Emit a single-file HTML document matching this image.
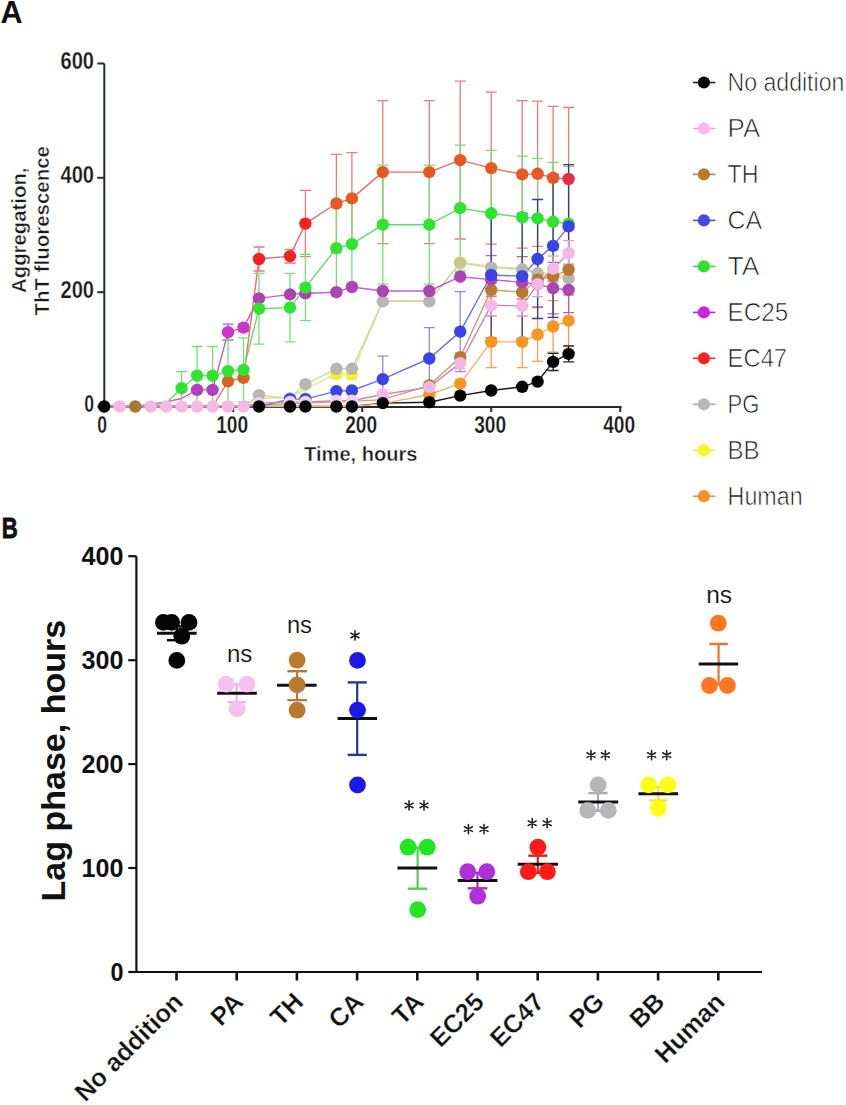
<!DOCTYPE html>
<html><head><meta charset="utf-8"><title>Aggregation kinetics and lag phase</title>
<style>
html,body{margin:0;padding:0;background:#fff;}
body{width:846px;height:1105px;overflow:hidden;}
svg{display:block;font-family:"Liberation Sans",sans-serif;}
</style></head>
<body>
<svg width="846" height="1105" viewBox="0 0 846 1105">
<rect width="846" height="1105" fill="#fff"/>
<g stroke="#262a33" stroke-width="2" fill="none">
<path d="M104.3 63.6 V407 H621.5"/>
<path d="M97.3 406.5 H104.3"/>
<path d="M97.3 292.2 H104.3"/>
<path d="M97.3 177.8 H104.3"/>
<path d="M97.3 63.5 H104.3"/>
<path d="M233.2 407 V412"/>
<path d="M362.2 407 V412"/>
<path d="M491.2 407 V412"/>
<path d="M620.2 407 V412"/>
</g>
<path d="M104.2 406.5 L259.0 406.5 L290.0 406.5 L305.4 406.5 L336.4 406.5 L351.9 406.5 L382.8 403.1 L429.3 402.2 L460.2 395.6 L491.2 390.5 L522.2 386.8 L537.6 381.6 L553.1 361.9 L568.6 353.9" stroke="#1a1010" stroke-width="1.4" fill="none" stroke-linejoin="round"/>
<path d="M104.2 406.5 L119.7 406.5 L135.2 406.5 L150.6 406.5 L166.1 406.5 L181.6 406.5 L197.1 406.5 L212.6 406.5 L228.0 406.5 L243.5 406.5 L259.0 398.5 L290.0 397.4 L305.4 389.3 L336.4 373.9 L351.9 374.5 L382.8 300.7 L429.3 300.7 L460.2 262.4 L491.2 265.9 L522.2 268.7 L537.6 271.6 L553.1 274.4 L568.6 276.7" stroke="#e6e68c" stroke-width="1.4" fill="none" stroke-linejoin="round"/>
<path d="M104.2 406.5 L119.7 406.5 L135.2 406.5 L150.6 406.5 L166.1 406.5 L181.6 406.5 L197.1 406.5 L212.6 406.5 L228.0 406.5 L243.5 406.5 L259.0 395.1 L290.0 398.5 L305.4 384.2 L336.4 368.8 L351.9 368.8 L382.8 301.3 L429.3 301.3 L460.2 263.0 L491.2 267.6 L522.2 269.3 L537.6 273.3 L553.1 276.7 L568.6 278.4" stroke="#d4d4a4" stroke-width="1.4" fill="none" stroke-linejoin="round"/>
<path d="M104.2 406.5 L119.7 406.5 L135.2 406.5 L150.6 406.5 L166.1 406.5 L181.6 406.5 L197.1 406.5 L212.6 406.5 L228.0 406.5 L243.5 406.5 L259.0 406.5 L290.0 406.5 L305.4 406.5 L336.4 406.5 L351.9 406.5 L382.8 403.6 L429.3 394.5 L460.2 383.6 L491.2 341.9 L522.2 341.9 L537.6 334.5 L553.1 326.5 L568.6 320.7" stroke="#f4b070" stroke-width="1.4" fill="none" stroke-linejoin="round"/>
<path d="M104.2 406.5 L119.7 406.5 L135.2 406.5 L150.6 406.5 L166.1 406.5 L181.6 406.5 L197.1 406.5 L212.6 406.5 L228.0 406.5 L243.5 406.5 L259.0 404.8 L290.0 403.6 L305.4 403.1 L336.4 401.9 L351.9 401.4 L382.8 399.6 L429.3 385.3 L460.2 357.3 L491.2 289.9 L522.2 292.2 L537.6 279.6 L553.1 276.2 L568.6 269.9" stroke="#c89c78" stroke-width="1.4" fill="none" stroke-linejoin="round"/>
<path d="M104.2 406.5 L119.7 406.5 L135.2 406.5 L150.6 404.2 L166.1 401.9 L181.6 398.5 L197.1 389.9 L212.6 389.9 L228.0 332.2 L243.5 327.6 L259.0 298.4 L290.0 294.4 L305.4 293.3 L336.4 292.2 L351.9 287.0 L382.8 291.0 L429.3 291.0 L460.2 276.7 L491.2 279.6 L522.2 282.4 L537.6 284.2 L553.1 288.2 L568.6 289.9" stroke="#c25ccb" stroke-width="1.4" fill="none" stroke-linejoin="round"/>
<path d="M104.2 406.5 L119.7 406.5 L135.2 406.5 L150.6 406.5 L166.1 406.5 L181.6 406.5 L197.1 406.5 L212.6 406.5 L228.0 381.3 L243.5 377.9 L259.0 259.0 L290.0 256.1 L305.4 223.6 L336.4 203.5 L351.9 198.4 L382.8 172.1 L429.3 172.1 L460.2 160.1 L491.2 168.1 L522.2 174.4 L537.6 173.8 L553.1 177.8 L568.6 179.0" stroke="#f06a6a" stroke-width="1.4" fill="none" stroke-linejoin="round"/>
<path d="M104.2 406.5 L119.7 406.5 L135.2 406.5 L150.6 404.8 L166.1 403.1 L181.6 388.2 L197.1 375.6 L212.6 375.6 L228.0 371.1 L243.5 369.9 L259.0 308.7 L290.0 307.6 L305.4 287.6 L336.4 248.1 L351.9 244.1 L382.8 224.7 L429.3 224.7 L460.2 208.1 L491.2 213.3 L522.2 217.3 L537.6 218.4 L553.1 221.8 L568.6 223.6" stroke="#62dc62" stroke-width="1.4" fill="none" stroke-linejoin="round"/>
<path d="M104.2 406.5 L119.7 406.5 L135.2 406.5 L150.6 406.5 L166.1 406.5 L181.6 406.5 L197.1 406.5 L212.6 406.5 L228.0 406.5 L243.5 406.5 L259.0 406.5 L290.0 399.1 L305.4 399.1 L336.4 391.1 L351.9 390.5 L382.8 379.1 L429.3 358.5 L460.2 331.6 L491.2 275.0 L522.2 276.2 L537.6 259.0 L553.1 245.9 L568.6 226.4" stroke="#6a70dc" stroke-width="1.4" fill="none" stroke-linejoin="round"/>
<path d="M104.2 406.5 L119.7 406.5 L135.2 406.5 L150.6 406.5 L166.1 406.5 L181.6 406.5 L197.1 406.5 L212.6 406.5 L228.0 406.5 L243.5 406.5 L259.0 403.1 L290.0 401.9 L305.4 401.9 L336.4 400.8 L351.9 400.8 L382.8 394.5 L429.3 387.1 L460.2 363.1 L491.2 305.3 L522.2 305.9 L537.6 284.2 L553.1 268.7 L568.6 253.3" stroke="#d484ae" stroke-width="1.4" fill="none" stroke-linejoin="round"/>
<path d="M305.4 384.8 V393.9 M299.9 384.8 H310.9 M299.9 393.9 H310.9" stroke="#e0e070" stroke-width="1.3" fill="none"/>
<path d="M336.4 369.3 V378.5 M330.9 369.3 H341.9 M330.9 378.5 H341.9" stroke="#e0e070" stroke-width="1.3" fill="none"/>
<path d="M351.9 369.9 V379.1 M346.4 369.9 H357.4 M346.4 379.1 H357.4" stroke="#e0e070" stroke-width="1.3" fill="none"/>
<path d="M491.2 316.2 V367.6 M485.7 316.2 H496.7 M485.7 367.6 H496.7" stroke="#f4a050" stroke-width="1.3" fill="none"/>
<path d="M522.2 316.2 V367.6 M516.7 316.2 H527.7 M516.7 367.6 H527.7" stroke="#f4a050" stroke-width="1.3" fill="none"/>
<path d="M537.6 307.6 V361.3 M532.1 307.6 H543.1 M532.1 361.3 H543.1" stroke="#f4a050" stroke-width="1.3" fill="none"/>
<path d="M553.1 300.7 V352.2 M547.6 300.7 H558.6 M547.6 352.2 H558.6" stroke="#f4a050" stroke-width="1.3" fill="none"/>
<path d="M568.6 295.0 V346.5 M563.1 295.0 H574.1 M563.1 346.5 H574.1" stroke="#f4a050" stroke-width="1.3" fill="none"/>
<path d="M429.3 381.9 V388.8 M423.8 381.9 H434.8 M423.8 388.8 H434.8" stroke="#c0906a" stroke-width="1.3" fill="none"/>
<path d="M460.2 352.8 V361.9 M454.7 352.8 H465.7 M454.7 361.9 H465.7" stroke="#c0906a" stroke-width="1.3" fill="none"/>
<path d="M491.2 283.0 V296.7 M485.7 283.0 H496.7 M485.7 296.7 H496.7" stroke="#c0906a" stroke-width="1.3" fill="none"/>
<path d="M522.2 285.3 V299.0 M516.7 285.3 H527.7 M516.7 299.0 H527.7" stroke="#c0906a" stroke-width="1.3" fill="none"/>
<path d="M537.6 273.9 V285.3 M532.1 273.9 H543.1 M532.1 285.3 H543.1" stroke="#c0906a" stroke-width="1.3" fill="none"/>
<path d="M553.1 270.4 V281.9 M547.6 270.4 H558.6 M547.6 281.9 H558.6" stroke="#c0906a" stroke-width="1.3" fill="none"/>
<path d="M568.6 264.1 V275.6 M563.1 264.1 H574.1 M563.1 275.6 H574.1" stroke="#c0906a" stroke-width="1.3" fill="none"/>
<path d="M228.0 324.2 V340.2 M222.5 324.2 H233.5 M222.5 340.2 H233.5" stroke="#b060b8" stroke-width="1.3" fill="none"/>
<path d="M243.5 324.2 V331.0 M238.0 324.2 H249.0 M238.0 331.0 H249.0" stroke="#b060b8" stroke-width="1.3" fill="none"/>
<path d="M491.2 255.6 V303.6 M485.7 255.6 H496.7 M485.7 303.6 H496.7" stroke="#b060b8" stroke-width="1.3" fill="none"/>
<path d="M522.2 256.7 V308.2 M516.7 256.7 H527.7 M516.7 308.2 H527.7" stroke="#b060b8" stroke-width="1.3" fill="none"/>
<path d="M537.6 261.3 V307.0 M532.1 261.3 H543.1 M532.1 307.0 H543.1" stroke="#b060b8" stroke-width="1.3" fill="none"/>
<path d="M553.1 262.4 V313.9 M547.6 262.4 H558.6 M547.6 313.9 H558.6" stroke="#b060b8" stroke-width="1.3" fill="none"/>
<path d="M568.6 267.0 V312.7 M563.1 267.0 H574.1 M563.1 312.7 H574.1" stroke="#b060b8" stroke-width="1.3" fill="none"/>
<path d="M259.0 247.0 V271.0 M253.5 247.0 H264.5 M253.5 271.0 H264.5" stroke="#f07878" stroke-width="1.3" fill="none"/>
<path d="M290.0 249.3 V263.0 M284.5 249.3 H295.5 M284.5 263.0 H295.5" stroke="#f07878" stroke-width="1.3" fill="none"/>
<path d="M305.4 190.4 V256.7 M299.9 190.4 H310.9 M299.9 256.7 H310.9" stroke="#f07878" stroke-width="1.3" fill="none"/>
<path d="M336.4 154.4 V252.7 M330.9 154.4 H341.9 M330.9 252.7 H341.9" stroke="#f07878" stroke-width="1.3" fill="none"/>
<path d="M351.9 152.7 V244.1 M346.4 152.7 H357.4 M346.4 244.1 H357.4" stroke="#f07878" stroke-width="1.3" fill="none"/>
<path d="M382.8 100.6 V243.6 M377.3 100.6 H388.3 M377.3 243.6 H388.3" stroke="#f07878" stroke-width="1.3" fill="none"/>
<path d="M429.3 100.6 V243.6 M423.8 100.6 H434.8 M423.8 243.6 H434.8" stroke="#f07878" stroke-width="1.3" fill="none"/>
<path d="M460.2 81.2 V239.0 M454.7 81.2 H465.7 M454.7 239.0 H465.7" stroke="#f07878" stroke-width="1.3" fill="none"/>
<path d="M491.2 92.1 V244.1 M485.7 92.1 H496.7 M485.7 244.1 H496.7" stroke="#f07878" stroke-width="1.3" fill="none"/>
<path d="M522.2 100.6 V248.1 M516.7 100.6 H527.7 M516.7 248.1 H527.7" stroke="#f07878" stroke-width="1.3" fill="none"/>
<path d="M537.6 101.2 V246.4 M532.1 101.2 H543.1 M532.1 246.4 H543.1" stroke="#f07878" stroke-width="1.3" fill="none"/>
<path d="M553.1 106.4 V249.3 M547.6 106.4 H558.6 M547.6 249.3 H558.6" stroke="#f07878" stroke-width="1.3" fill="none"/>
<path d="M568.6 107.5 V250.4 M563.1 107.5 H574.1 M563.1 250.4 H574.1" stroke="#f07878" stroke-width="1.3" fill="none"/>
<path d="M181.6 371.6 V404.8 M176.1 371.6 H187.1 M176.1 404.8 H187.1" stroke="#74e074" stroke-width="1.3" fill="none"/>
<path d="M197.1 346.5 V404.8 M191.6 346.5 H202.6 M191.6 404.8 H202.6" stroke="#74e074" stroke-width="1.3" fill="none"/>
<path d="M212.6 346.5 V404.8 M207.1 346.5 H218.1 M207.1 404.8 H218.1" stroke="#74e074" stroke-width="1.3" fill="none"/>
<path d="M228.0 339.6 V402.5 M222.5 339.6 H233.5 M222.5 402.5 H233.5" stroke="#74e074" stroke-width="1.3" fill="none"/>
<path d="M243.5 337.9 V401.9 M238.0 337.9 H249.0 M238.0 401.9 H249.0" stroke="#74e074" stroke-width="1.3" fill="none"/>
<path d="M259.0 273.3 V344.2 M253.5 273.3 H264.5 M253.5 344.2 H264.5" stroke="#74e074" stroke-width="1.3" fill="none"/>
<path d="M290.0 273.3 V341.9 M284.5 273.3 H295.5 M284.5 341.9 H295.5" stroke="#74e074" stroke-width="1.3" fill="none"/>
<path d="M305.4 254.4 V320.7 M299.9 254.4 H310.9 M299.9 320.7 H310.9" stroke="#74e074" stroke-width="1.3" fill="none"/>
<path d="M336.4 207.0 V289.3 M330.9 207.0 H341.9 M330.9 289.3 H341.9" stroke="#74e074" stroke-width="1.3" fill="none"/>
<path d="M351.9 201.3 V287.0 M346.4 201.3 H357.4 M346.4 287.0 H357.4" stroke="#74e074" stroke-width="1.3" fill="none"/>
<path d="M382.8 165.2 V284.2 M377.3 165.2 H388.3 M377.3 284.2 H388.3" stroke="#74e074" stroke-width="1.3" fill="none"/>
<path d="M429.3 165.2 V284.2 M423.8 165.2 H434.8 M423.8 284.2 H434.8" stroke="#74e074" stroke-width="1.3" fill="none"/>
<path d="M460.2 145.2 V271.0 M454.7 145.2 H465.7 M454.7 271.0 H465.7" stroke="#74e074" stroke-width="1.3" fill="none"/>
<path d="M491.2 150.4 V276.2 M485.7 150.4 H496.7 M485.7 276.2 H496.7" stroke="#74e074" stroke-width="1.3" fill="none"/>
<path d="M522.2 156.1 V278.4 M516.7 156.1 H527.7 M516.7 278.4 H527.7" stroke="#74e074" stroke-width="1.3" fill="none"/>
<path d="M537.6 158.4 V278.4 M532.1 158.4 H543.1 M532.1 278.4 H543.1" stroke="#74e074" stroke-width="1.3" fill="none"/>
<path d="M553.1 162.4 V281.3 M547.6 162.4 H558.6 M547.6 281.3 H558.6" stroke="#74e074" stroke-width="1.3" fill="none"/>
<path d="M568.6 166.4 V280.7 M563.1 166.4 H574.1 M563.1 280.7 H574.1" stroke="#74e074" stroke-width="1.3" fill="none"/>
<path d="M290.0 396.2 V401.9 M284.5 396.2 H295.5 M284.5 401.9 H295.5" stroke="#8c8cd8" stroke-width="1.3" fill="none"/>
<path d="M305.4 396.2 V401.9 M299.9 396.2 H310.9 M299.9 401.9 H310.9" stroke="#8c8cd8" stroke-width="1.3" fill="none"/>
<path d="M382.8 356.2 V401.9 M377.3 356.2 H388.3 M377.3 401.9 H388.3" stroke="#8c8cd8" stroke-width="1.3" fill="none"/>
<path d="M429.3 327.6 V389.3 M423.8 327.6 H434.8 M423.8 389.3 H434.8" stroke="#8c8cd8" stroke-width="1.3" fill="none"/>
<path d="M460.2 291.6 V371.6 M454.7 291.6 H465.7 M454.7 371.6 H465.7" stroke="#8c8cd8" stroke-width="1.3" fill="none"/>
<path d="M491.2 212.1 V337.9 M485.7 212.1 H496.7 M485.7 337.9 H496.7" stroke="#34408e" stroke-width="1.3" fill="none"/>
<path d="M522.2 213.3 V339.0 M516.7 213.3 H527.7 M516.7 339.0 H527.7" stroke="#34408e" stroke-width="1.3" fill="none"/>
<path d="M537.6 199.5 V318.5 M532.1 199.5 H543.1 M532.1 318.5 H543.1" stroke="#34408e" stroke-width="1.3" fill="none"/>
<path d="M553.1 174.4 V317.3 M547.6 174.4 H558.6 M547.6 317.3 H558.6" stroke="#34408e" stroke-width="1.3" fill="none"/>
<path d="M568.6 164.7 V288.2 M563.1 164.7 H574.1 M563.1 288.2 H574.1" stroke="#34408e" stroke-width="1.3" fill="none"/>
<path d="M460.2 357.3 V368.8 M454.7 357.3 H465.7 M454.7 368.8 H465.7" stroke="#e0a0c8" stroke-width="1.3" fill="none"/>
<path d="M491.2 295.0 V315.6 M485.7 295.0 H496.7 M485.7 315.6 H496.7" stroke="#e0a0c8" stroke-width="1.3" fill="none"/>
<path d="M522.2 295.6 V316.2 M516.7 295.6 H527.7 M516.7 316.2 H527.7" stroke="#e0a0c8" stroke-width="1.3" fill="none"/>
<path d="M537.6 271.6 V296.7 M532.1 271.6 H543.1 M532.1 296.7 H543.1" stroke="#e0a0c8" stroke-width="1.3" fill="none"/>
<path d="M553.1 256.1 V281.3 M547.6 256.1 H558.6 M547.6 281.3 H558.6" stroke="#e0a0c8" stroke-width="1.3" fill="none"/>
<path d="M568.6 240.7 V265.9 M563.1 240.7 H574.1 M563.1 265.9 H574.1" stroke="#e0a0c8" stroke-width="1.3" fill="none"/>
<path d="M553.1 353.3 V370.5 M547.6 353.3 H558.6 M547.6 370.5 H558.6" stroke="#222222" stroke-width="1.3" fill="none"/>
<path d="M568.6 345.9 V361.9 M563.1 345.9 H574.1 M563.1 361.9 H574.1" stroke="#222222" stroke-width="1.3" fill="none"/>
<circle cx="336.4" cy="373.9" r="6.2" fill="#f2f22a"/>
<circle cx="351.9" cy="374.5" r="6.2" fill="#f2f22a"/>
<circle cx="460.2" cy="262.4" r="6.2" fill="#f2f22a"/>
<circle cx="259.0" cy="395.1" r="6.2" fill="#b6b6b2"/>
<circle cx="290.0" cy="398.5" r="6.2" fill="#b6b6b2"/>
<circle cx="305.4" cy="384.2" r="6.2" fill="#b6b6b2"/>
<circle cx="336.4" cy="368.8" r="6.2" fill="#b6b6b2"/>
<circle cx="351.9" cy="368.8" r="6.2" fill="#b6b6b2"/>
<circle cx="382.8" cy="301.3" r="6.2" fill="#b6b6b2"/>
<circle cx="429.3" cy="301.3" r="6.2" fill="#b6b6b2"/>
<circle cx="460.2" cy="263.0" r="6.2" fill="#c4c690"/>
<circle cx="491.2" cy="267.6" r="6.2" fill="#b6b6b2"/>
<circle cx="522.2" cy="269.3" r="6.2" fill="#b6b6b2"/>
<circle cx="537.6" cy="273.3" r="6.2" fill="#b6b6b2"/>
<circle cx="553.1" cy="276.7" r="6.2" fill="#b6b6b2"/>
<circle cx="568.6" cy="278.4" r="6.2" fill="#b6b6b2"/>
<circle cx="429.3" cy="394.5" r="6.2" fill="#f8961e"/>
<circle cx="460.2" cy="383.6" r="6.2" fill="#f8961e"/>
<circle cx="491.2" cy="341.9" r="6.2" fill="#f8961e"/>
<circle cx="522.2" cy="341.9" r="6.2" fill="#f8961e"/>
<circle cx="537.6" cy="334.5" r="6.2" fill="#f8961e"/>
<circle cx="553.1" cy="326.5" r="6.2" fill="#f8961e"/>
<circle cx="568.6" cy="320.7" r="6.2" fill="#f8961e"/>
<circle cx="429.3" cy="385.3" r="6.2" fill="#b87a30"/>
<circle cx="460.2" cy="357.3" r="6.2" fill="#b87a30"/>
<circle cx="491.2" cy="289.9" r="6.2" fill="#b87a30"/>
<circle cx="522.2" cy="292.2" r="6.2" fill="#b87a30"/>
<circle cx="537.6" cy="279.6" r="6.2" fill="#b87a30"/>
<circle cx="553.1" cy="276.2" r="6.2" fill="#b87a30"/>
<circle cx="568.6" cy="269.9" r="6.2" fill="#b87a30"/>
<circle cx="197.1" cy="389.9" r="6.2" fill="#b23ec0"/>
<circle cx="212.6" cy="389.9" r="6.2" fill="#b23ec0"/>
<circle cx="228.0" cy="332.2" r="6.2" fill="#cc34cc"/>
<circle cx="243.5" cy="327.6" r="6.2" fill="#cc34cc"/>
<circle cx="259.0" cy="298.4" r="6.2" fill="#ac44b6"/>
<circle cx="290.0" cy="294.4" r="6.2" fill="#ac44b6"/>
<circle cx="305.4" cy="293.3" r="6.2" fill="#ac44b6"/>
<circle cx="336.4" cy="292.2" r="6.2" fill="#ac44b6"/>
<circle cx="351.9" cy="287.0" r="6.2" fill="#ac44b6"/>
<circle cx="382.8" cy="291.0" r="6.2" fill="#ac44b6"/>
<circle cx="429.3" cy="291.0" r="6.2" fill="#ac44b6"/>
<circle cx="460.2" cy="276.7" r="6.2" fill="#ac44b6"/>
<circle cx="491.2" cy="279.6" r="6.2" fill="#ac44b6"/>
<circle cx="522.2" cy="282.4" r="6.2" fill="#ac44b6"/>
<circle cx="537.6" cy="284.2" r="6.2" fill="#ac44b6"/>
<circle cx="553.1" cy="288.2" r="6.2" fill="#ac44b6"/>
<circle cx="568.6" cy="289.9" r="6.2" fill="#ac44b6"/>
<circle cx="228.0" cy="381.3" r="6.2" fill="#d86422"/>
<circle cx="243.5" cy="377.9" r="6.2" fill="#d86422"/>
<circle cx="259.0" cy="259.0" r="6.2" fill="#f02222"/>
<circle cx="290.0" cy="256.1" r="6.2" fill="#f02222"/>
<circle cx="305.4" cy="223.6" r="6.2" fill="#f02222"/>
<circle cx="336.4" cy="203.5" r="6.2" fill="#e65a22"/>
<circle cx="351.9" cy="198.4" r="6.2" fill="#e65a22"/>
<circle cx="382.8" cy="172.1" r="6.2" fill="#e65a22"/>
<circle cx="429.3" cy="172.1" r="6.2" fill="#e65a22"/>
<circle cx="460.2" cy="160.1" r="6.2" fill="#e65a22"/>
<circle cx="491.2" cy="168.1" r="6.2" fill="#e65a22"/>
<circle cx="522.2" cy="174.4" r="6.2" fill="#e65a22"/>
<circle cx="537.6" cy="173.8" r="6.2" fill="#e65a22"/>
<circle cx="553.1" cy="177.8" r="6.2" fill="#e65a22"/>
<circle cx="568.6" cy="179.0" r="6.2" fill="#e23040"/>
<circle cx="181.6" cy="388.2" r="6.2" fill="#2ee42e"/>
<circle cx="197.1" cy="375.6" r="6.2" fill="#2ee42e"/>
<circle cx="212.6" cy="375.6" r="6.2" fill="#2ee42e"/>
<circle cx="228.0" cy="371.1" r="6.2" fill="#2ee42e"/>
<circle cx="243.5" cy="369.9" r="6.2" fill="#2ee42e"/>
<circle cx="259.0" cy="308.7" r="6.2" fill="#2ee42e"/>
<circle cx="290.0" cy="307.6" r="6.2" fill="#2ee42e"/>
<circle cx="305.4" cy="287.6" r="6.2" fill="#2ee42e"/>
<circle cx="336.4" cy="248.1" r="6.2" fill="#2ee42e"/>
<circle cx="351.9" cy="244.1" r="6.2" fill="#2ee42e"/>
<circle cx="382.8" cy="224.7" r="6.2" fill="#2ee42e"/>
<circle cx="429.3" cy="224.7" r="6.2" fill="#2ee42e"/>
<circle cx="460.2" cy="208.1" r="6.2" fill="#2ee42e"/>
<circle cx="491.2" cy="213.3" r="6.2" fill="#2ee42e"/>
<circle cx="522.2" cy="217.3" r="6.2" fill="#2ee42e"/>
<circle cx="537.6" cy="218.4" r="6.2" fill="#2ee42e"/>
<circle cx="553.1" cy="221.8" r="6.2" fill="#2ee42e"/>
<circle cx="568.6" cy="223.6" r="6.2" fill="#2ee42e"/>
<circle cx="290.0" cy="399.1" r="6.2" fill="#3a44e6"/>
<circle cx="305.4" cy="399.1" r="6.2" fill="#3a44e6"/>
<circle cx="336.4" cy="391.1" r="6.2" fill="#3a44e6"/>
<circle cx="351.9" cy="390.5" r="6.2" fill="#3a44e6"/>
<circle cx="382.8" cy="379.1" r="6.2" fill="#3a44e6"/>
<circle cx="429.3" cy="358.5" r="6.2" fill="#3a44e6"/>
<circle cx="460.2" cy="331.6" r="6.2" fill="#3a44e6"/>
<circle cx="491.2" cy="275.0" r="6.2" fill="#3a44e6"/>
<circle cx="522.2" cy="276.2" r="6.2" fill="#3a44e6"/>
<circle cx="537.6" cy="259.0" r="6.2" fill="#3a44e6"/>
<circle cx="553.1" cy="245.9" r="6.2" fill="#3a44e6"/>
<circle cx="568.6" cy="226.4" r="6.2" fill="#3a44e6"/>
<circle cx="119.7" cy="406.5" r="6.2" fill="#f6b6e6"/>
<circle cx="150.6" cy="406.5" r="6.2" fill="#f6b6e6"/>
<circle cx="166.1" cy="406.5" r="6.2" fill="#f6b6e6"/>
<circle cx="181.6" cy="406.5" r="6.2" fill="#f6b6e6"/>
<circle cx="197.1" cy="406.5" r="6.2" fill="#f6b6e6"/>
<circle cx="212.6" cy="406.5" r="6.2" fill="#f6b6e6"/>
<circle cx="228.0" cy="406.5" r="6.2" fill="#f6b6e6"/>
<circle cx="243.5" cy="406.5" r="6.2" fill="#f6b6e6"/>
<circle cx="259.0" cy="403.1" r="6.2" fill="#eed2ee"/>
<circle cx="290.0" cy="401.9" r="6.2" fill="#eed2ee"/>
<circle cx="305.4" cy="401.9" r="6.2" fill="#eed2ee"/>
<circle cx="336.4" cy="400.8" r="6.2" fill="#eed2ee"/>
<circle cx="351.9" cy="400.8" r="6.2" fill="#eed2ee"/>
<circle cx="382.8" cy="394.5" r="6.2" fill="#f6b6e6"/>
<circle cx="429.3" cy="387.1" r="6.2" fill="#f6b6e6"/>
<circle cx="460.2" cy="363.1" r="6.2" fill="#f6b6e6"/>
<circle cx="491.2" cy="305.3" r="6.2" fill="#f6b6e6"/>
<circle cx="522.2" cy="305.9" r="6.2" fill="#f6b6e6"/>
<circle cx="537.6" cy="284.2" r="6.2" fill="#f6b6e6"/>
<circle cx="553.1" cy="268.7" r="6.2" fill="#f6b6e6"/>
<circle cx="568.6" cy="253.3" r="6.2" fill="#f6b6e6"/>
<circle cx="104.2" cy="406.5" r="6.2" fill="#050505"/>
<circle cx="259.0" cy="406.5" r="6.2" fill="#050505"/>
<circle cx="290.0" cy="406.5" r="6.2" fill="#050505"/>
<circle cx="305.4" cy="406.5" r="6.2" fill="#050505"/>
<circle cx="336.4" cy="406.5" r="6.2" fill="#050505"/>
<circle cx="351.9" cy="406.5" r="6.2" fill="#050505"/>
<circle cx="382.8" cy="403.1" r="6.2" fill="#050505"/>
<circle cx="429.3" cy="402.2" r="6.2" fill="#050505"/>
<circle cx="460.2" cy="395.6" r="6.2" fill="#050505"/>
<circle cx="491.2" cy="390.5" r="6.2" fill="#050505"/>
<circle cx="522.2" cy="386.8" r="6.2" fill="#050505"/>
<circle cx="537.6" cy="381.6" r="6.2" fill="#050505"/>
<circle cx="553.1" cy="361.9" r="6.2" fill="#050505"/>
<circle cx="568.6" cy="353.9" r="6.2" fill="#050505"/>
<circle cx="135.2" cy="406.5" r="6.2" fill="#a8782e"/>
<path d="M692.9 82.5 H715.4" stroke="#3a2020" stroke-width="1.6"/>
<circle cx="703.9" cy="82.5" r="6.1" fill="#050505"/>
<text x="727.6" y="91.3" font-size="25" textLength="116.7" lengthAdjust="spacingAndGlyphs" fill="#111" stroke="#fff" stroke-width="0.7">No addition</text>
<path d="M692.9 128.5 H715.4" stroke="#f0a8dc" stroke-width="1.6"/>
<circle cx="703.9" cy="128.5" r="6.1" fill="#f8b8ea"/>
<text x="727.6" y="137.3" font-size="25" textLength="32.5" lengthAdjust="spacingAndGlyphs" fill="#111" stroke="#fff" stroke-width="0.7">PA</text>
<path d="M692.9 174.4 H715.4" stroke="#c07848" stroke-width="1.6"/>
<circle cx="703.9" cy="174.4" r="6.1" fill="#b87a30"/>
<text x="727.6" y="183.2" font-size="25" textLength="31" lengthAdjust="spacingAndGlyphs" fill="#111" stroke="#fff" stroke-width="0.7">TH</text>
<path d="M692.9 220.4 H715.4" stroke="#5050d8" stroke-width="1.6"/>
<circle cx="703.9" cy="220.4" r="6.1" fill="#4848e8"/>
<text x="727.6" y="229.2" font-size="25" textLength="34.5" lengthAdjust="spacingAndGlyphs" fill="#111" stroke="#fff" stroke-width="0.7">CA</text>
<path d="M692.9 266.4 H715.4" stroke="#50d050" stroke-width="1.6"/>
<circle cx="703.9" cy="266.4" r="6.1" fill="#30e030"/>
<text x="727.6" y="275.2" font-size="25" textLength="32" lengthAdjust="spacingAndGlyphs" fill="#111" stroke="#fff" stroke-width="0.7">TA</text>
<path d="M692.9 312.4 H715.4" stroke="#b030c8" stroke-width="1.6"/>
<circle cx="703.9" cy="312.4" r="6.1" fill="#d020e0"/>
<text x="727.6" y="321.2" font-size="25" textLength="60.8" lengthAdjust="spacingAndGlyphs" fill="#111" stroke="#fff" stroke-width="0.7">EC25</text>
<path d="M692.9 358.3 H715.4" stroke="#f03030" stroke-width="1.6"/>
<circle cx="703.9" cy="358.3" r="6.1" fill="#ff2020"/>
<text x="727.6" y="367.1" font-size="25" textLength="59.5" lengthAdjust="spacingAndGlyphs" fill="#111" stroke="#fff" stroke-width="0.7">EC47</text>
<path d="M692.9 404.3 H715.4" stroke="#b0a0d0" stroke-width="1.6"/>
<circle cx="703.9" cy="404.3" r="6.1" fill="#b8b8b8"/>
<text x="727.6" y="413.1" font-size="25" textLength="32" lengthAdjust="spacingAndGlyphs" fill="#111" stroke="#fff" stroke-width="0.7">PG</text>
<path d="M692.9 450.3 H715.4" stroke="#f0f040" stroke-width="1.6"/>
<circle cx="703.9" cy="450.3" r="6.1" fill="#f8f820"/>
<text x="727.6" y="459.1" font-size="25" textLength="32" lengthAdjust="spacingAndGlyphs" fill="#111" stroke="#fff" stroke-width="0.7">BB</text>
<path d="M692.9 496.2 H715.4" stroke="#f09050" stroke-width="1.6"/>
<circle cx="703.9" cy="496.2" r="6.1" fill="#f89028"/>
<text x="727.6" y="505.0" font-size="25" textLength="75" lengthAdjust="spacingAndGlyphs" fill="#111" stroke="#fff" stroke-width="0.7">Human</text>
<text x="0.6" y="22.8" font-size="30.5" font-weight="bold" fill="#111">A</text>
<text x="1.8" y="537.6" font-size="30" font-weight="bold" fill="#111" stroke="#111" stroke-width="0.8" textLength="16" lengthAdjust="spacingAndGlyphs">B</text>
<g stroke="#fff" stroke-width="0.25">
<text x="94" y="412.1" font-size="23.5" font-weight="bold" text-anchor="end" fill="#1a1a1a" textLength="9.8" lengthAdjust="spacingAndGlyphs">0</text>
<text x="94" y="297.8" font-size="23.5" font-weight="bold" text-anchor="end" fill="#1a1a1a" textLength="33.5" lengthAdjust="spacingAndGlyphs">200</text>
<text x="94" y="183.4" font-size="23.5" font-weight="bold" text-anchor="end" fill="#1a1a1a" textLength="33.5" lengthAdjust="spacingAndGlyphs">400</text>
<text x="94" y="69.1" font-size="23.5" font-weight="bold" text-anchor="end" fill="#1a1a1a" textLength="33.5" lengthAdjust="spacingAndGlyphs">600</text>
<text x="102.2" y="432.6" font-size="23.5" font-weight="bold" text-anchor="middle" fill="#1a1a1a" textLength="9.8" lengthAdjust="spacingAndGlyphs">0</text>
<text x="232.2" y="432.6" font-size="23.5" font-weight="bold" text-anchor="middle" fill="#1a1a1a" textLength="32" lengthAdjust="spacingAndGlyphs">100</text>
<text x="361.2" y="432.6" font-size="23.5" font-weight="bold" text-anchor="middle" fill="#1a1a1a" textLength="32" lengthAdjust="spacingAndGlyphs">200</text>
<text x="490.2" y="432.6" font-size="23.5" font-weight="bold" text-anchor="middle" fill="#1a1a1a" textLength="32" lengthAdjust="spacingAndGlyphs">300</text>
<text x="619.2" y="432.6" font-size="23.5" font-weight="bold" text-anchor="middle" fill="#1a1a1a" textLength="32" lengthAdjust="spacingAndGlyphs">400</text>
<text x="304.1" y="461.1" font-size="21" font-weight="bold" fill="#1a1a1a" stroke-width="0.4" textLength="113.3" lengthAdjust="spacingAndGlyphs">Time, hours</text>
<text transform="translate(25.6 293) rotate(-90)" font-size="19.5" font-weight="bold" fill="#1a1a1a" stroke-width="0.4" textLength="125.5" lengthAdjust="spacingAndGlyphs">Aggregation,</text>
<text transform="translate(49.3 315.4) rotate(-90)" font-size="19.5" font-weight="bold" fill="#1a1a1a" stroke-width="0.4" textLength="169.4" lengthAdjust="spacingAndGlyphs">ThT fluorescence</text>
</g>
<g stroke="#111" stroke-width="2.2" fill="none">
<path d="M136.4 556.2 V972 H762"/>
<path d="M128.3 972.0 H136.4"/>
<path d="M128.3 868.0 H136.4"/>
<path d="M128.3 764.1 H136.4"/>
<path d="M128.3 660.2 H136.4"/>
<path d="M128.3 556.2 H136.4"/>
<path d="M176.5 972 V980.5" stroke-width="2.6"/>
<path d="M236.7 972 V980.5" stroke-width="2.6"/>
<path d="M296.9 972 V980.5" stroke-width="2.6"/>
<path d="M357.1 972 V980.5" stroke-width="2.6"/>
<path d="M417.3 972 V980.5" stroke-width="2.6"/>
<path d="M477.5 972 V980.5" stroke-width="2.6"/>
<path d="M537.7 972 V980.5" stroke-width="2.6"/>
<path d="M597.9 972 V980.5" stroke-width="2.6"/>
<path d="M658.1 972 V980.5" stroke-width="2.6"/>
<path d="M718.3 972 V980.5" stroke-width="2.6"/>
</g>
<text x="123.5" y="980.9" font-size="25.8" font-weight="bold" text-anchor="end" fill="#111" textLength="13" lengthAdjust="spacingAndGlyphs">0</text>
<text x="123.5" y="876.9" font-size="25.8" font-weight="bold" text-anchor="end" fill="#111" textLength="41.9" lengthAdjust="spacingAndGlyphs">100</text>
<text x="123.5" y="773.0" font-size="25.8" font-weight="bold" text-anchor="end" fill="#111" textLength="41.9" lengthAdjust="spacingAndGlyphs">200</text>
<text x="123.5" y="669.1" font-size="25.8" font-weight="bold" text-anchor="end" fill="#111" textLength="41.9" lengthAdjust="spacingAndGlyphs">300</text>
<text x="123.5" y="565.1" font-size="25.8" font-weight="bold" text-anchor="end" fill="#111" textLength="41.9" lengthAdjust="spacingAndGlyphs">400</text>
<path d="M177.0 626.4 V640.2" stroke="#050505" stroke-width="2.2"/>
<path d="M167 640.2 H187" stroke="#050505" stroke-width="2.4"/>
<path d="M167 626.4 H187" stroke="#050505" stroke-width="2.4"/>
<path d="M156.9 633.3 H196.7" stroke="#111" stroke-width="3"/>
<circle cx="163.4" cy="622.4" r="8.4" fill="#050505"/>
<circle cx="171.7" cy="622.4" r="8.4" fill="#050505"/>
<circle cx="189" cy="622.4" r="8.4" fill="#050505"/>
<circle cx="181.8" cy="636.2" r="8.4" fill="#050505"/>
<circle cx="176.8" cy="660.4" r="8.4" fill="#050505"/>
<path d="M236.7 684.4 V702.2" stroke="#f4b0e4" stroke-width="2.2"/>
<path d="M227.6 702.2 H245.8" stroke="#f4b0e4" stroke-width="2.4"/>
<path d="M227.6 684.4 H245.8" stroke="#f4b0e4" stroke-width="2.4"/>
<path d="M217.2 693.3 H256.8" stroke="#111" stroke-width="3"/>
<circle cx="226.3" cy="684.2" r="8.4" fill="#f8c0ec"/>
<circle cx="247" cy="684.2" r="8.4" fill="#f8c0ec"/>
<circle cx="237.3" cy="708.9" r="8.4" fill="#f8c0ec"/>
<path d="M297.1 671.2 V700.1" stroke="#b07a40" stroke-width="2.2"/>
<path d="M287.4 671.2 H306.9" stroke="#b07a40" stroke-width="2.4"/>
<path d="M287.4 700.1 H306.9" stroke="#b07a40" stroke-width="2.4"/>
<path d="M277 685.3 H316.6" stroke="#111" stroke-width="3"/>
<circle cx="297.1" cy="660.2" r="8.4" fill="#b87a30"/>
<circle cx="297.1" cy="684.9" r="8.4" fill="#b87a30"/>
<circle cx="297.1" cy="710.2" r="8.4" fill="#b87a30"/>
<path d="M357.2 682.4 V754.9" stroke="#2a3590" stroke-width="2.2"/>
<path d="M347.7 682.4 H366.8" stroke="#2a3590" stroke-width="2.4"/>
<path d="M347.7 754.9 H366.8" stroke="#2a3590" stroke-width="2.4"/>
<path d="M337.6 718.6 H377" stroke="#111" stroke-width="3"/>
<circle cx="357.5" cy="660.4" r="8.4" fill="#1a1ae8"/>
<circle cx="357.5" cy="710.1" r="8.4" fill="#1a1ae8"/>
<circle cx="357.5" cy="785" r="8.4" fill="#1a1ae8"/>
<path d="M417.6 847.5 V888.7" stroke="#55cc55" stroke-width="2.2"/>
<path d="M408 888.7 H427.2" stroke="#55cc55" stroke-width="2.4"/>
<path d="M408 847.5 H427.2" stroke="#55cc55" stroke-width="2.4"/>
<path d="M397.4 868.1 H437.2" stroke="#111" stroke-width="3"/>
<circle cx="408.1" cy="847.2" r="8.4" fill="#22e622"/>
<circle cx="427.2" cy="847.2" r="8.4" fill="#22e622"/>
<circle cx="417.7" cy="909.6" r="8.4" fill="#22e622"/>
<path d="M477.5 872.9 V888.3" stroke="#a030c0" stroke-width="2.2"/>
<path d="M467.7 888.3 H487.4" stroke="#a030c0" stroke-width="2.4"/>
<path d="M467.7 872.9 H487.4" stroke="#a030c0" stroke-width="2.4"/>
<path d="M457.7 880.6 H497.4" stroke="#111" stroke-width="3"/>
<circle cx="467.7" cy="871.7" r="8.4" fill="#b02fd8"/>
<circle cx="486.8" cy="871.7" r="8.4" fill="#b02fd8"/>
<circle cx="477.7" cy="896.2" r="8.4" fill="#b02fd8"/>
<path d="M537.8 855.7 V872.9" stroke="#e02020" stroke-width="2.2"/>
<path d="M528.3 855.7 H547.4" stroke="#e02020" stroke-width="2.4"/>
<path d="M528.3 872.9 H547.4" stroke="#e02020" stroke-width="2.4"/>
<path d="M517.7 864.3 H558.1" stroke="#111" stroke-width="3"/>
<circle cx="537.9" cy="847.2" r="8.4" fill="#ff1a1a"/>
<circle cx="528.3" cy="871.7" r="8.4" fill="#ff1a1a"/>
<circle cx="547.4" cy="871.7" r="8.4" fill="#ff1a1a"/>
<path d="M598.0 793.1 V810.7" stroke="#a8a8b0" stroke-width="2.2"/>
<path d="M588.4 793.1 H607.6" stroke="#a8a8b0" stroke-width="2.4"/>
<path d="M588.4 810.7 H607.6" stroke="#a8a8b0" stroke-width="2.4"/>
<path d="M578.2 801.9 H618.2" stroke="#111" stroke-width="3"/>
<circle cx="598.1" cy="784.9" r="8.4" fill="#b6b6ba"/>
<circle cx="587.7" cy="810.4" r="8.4" fill="#b6b6ba"/>
<circle cx="608.3" cy="810.4" r="8.4" fill="#b6b6ba"/>
<path d="M658.3 786.9 V800.5" stroke="#e8e820" stroke-width="2.2"/>
<path d="M649.4 800.5 H667.2" stroke="#e8e820" stroke-width="2.4"/>
<path d="M649.4 786.9 H667.2" stroke="#e8e820" stroke-width="2.4"/>
<path d="M638.4 793.7 H678.1" stroke="#111" stroke-width="3"/>
<circle cx="648.7" cy="784.9" r="8.4" fill="#ffff14"/>
<circle cx="667.9" cy="784.9" r="8.4" fill="#ffff14"/>
<circle cx="658.2" cy="808.3" r="8.4" fill="#ffff14"/>
<path d="M718.6 644 V684" stroke="#f07030" stroke-width="2.2"/>
<path d="M709.4 644 H727.9" stroke="#f07030" stroke-width="2.4"/>
<path d="M709.4 684 H727.9" stroke="#f07030" stroke-width="2.4"/>
<path d="M698.7 664 H738.1" stroke="#111" stroke-width="3"/>
<circle cx="718.3" cy="623.2" r="8.4" fill="#ff7722"/>
<circle cx="709.4" cy="685.5" r="8.4" fill="#ff7722"/>
<circle cx="727.4" cy="685.5" r="8.4" fill="#ff7722"/>
<g font-size="23" fill="#111" stroke="#fff" stroke-width="0.15">
<text x="226.9" y="661.5" textLength="25.4" lengthAdjust="spacingAndGlyphs">ns</text>
<text x="286.9" y="633" textLength="25.1" lengthAdjust="spacingAndGlyphs">ns</text>
<text x="706.2" y="603" textLength="25.9" lengthAdjust="spacingAndGlyphs">ns</text>
</g>
<path d="M355.0 630.9 L355.0 640.1 M351.0 633.2 L359.0 637.8 M359.0 633.2 L351.0 637.8" stroke="#222" stroke-width="1.6" stroke-linecap="round" fill="none"/>
<path d="M409.1 800.8 L409.1 810.0 M405.1 803.1 L413.1 807.7 M413.1 803.1 L405.1 807.7" stroke="#222" stroke-width="1.6" stroke-linecap="round" fill="none"/>
<path d="M424.0 800.8 L424.0 810.0 M420.0 803.1 L428.0 807.7 M428.0 803.1 L420.0 807.7" stroke="#222" stroke-width="1.6" stroke-linecap="round" fill="none"/>
<path d="M468.4 824.5 L468.4 833.7 M464.4 826.8 L472.4 831.4 M472.4 826.8 L464.4 831.4" stroke="#222" stroke-width="1.6" stroke-linecap="round" fill="none"/>
<path d="M484.0 824.5 L484.0 833.7 M480.0 826.8 L488.0 831.4 M488.0 826.8 L480.0 831.4" stroke="#222" stroke-width="1.6" stroke-linecap="round" fill="none"/>
<path d="M532.2 818.6 L532.2 827.8 M528.2 820.9 L536.2 825.5 M536.2 820.9 L528.2 825.5" stroke="#222" stroke-width="1.6" stroke-linecap="round" fill="none"/>
<path d="M547.1 818.6 L547.1 827.8 M543.1 820.9 L551.1 825.5 M551.1 820.9 L543.1 825.5" stroke="#222" stroke-width="1.6" stroke-linecap="round" fill="none"/>
<path d="M591.0 750.5 L591.0 759.7 M587.0 752.8 L595.0 757.4 M595.0 752.8 L587.0 757.4" stroke="#222" stroke-width="1.6" stroke-linecap="round" fill="none"/>
<path d="M605.4 750.5 L605.4 759.7 M601.4 752.8 L609.4 757.4 M609.4 752.8 L601.4 757.4" stroke="#222" stroke-width="1.6" stroke-linecap="round" fill="none"/>
<path d="M651.6 750.5 L651.6 759.7 M647.6 752.8 L655.6 757.4 M655.6 752.8 L647.6 757.4" stroke="#222" stroke-width="1.6" stroke-linecap="round" fill="none"/>
<path d="M666.7 750.5 L666.7 759.7 M662.7 752.8 L670.7 757.4 M670.7 752.8 L662.7 757.4" stroke="#222" stroke-width="1.6" stroke-linecap="round" fill="none"/>
<text transform="translate(184.5 1003.5) rotate(-45)" font-size="25.5" font-weight="bold" text-anchor="end" fill="#111" stroke="#fff" stroke-width="0.3">No addition</text>
<text transform="translate(244.7 1003.5) rotate(-45)" font-size="25.5" font-weight="bold" text-anchor="end" fill="#111" stroke="#fff" stroke-width="0.3">PA</text>
<text transform="translate(304.9 1003.5) rotate(-45)" font-size="25.5" font-weight="bold" text-anchor="end" fill="#111" stroke="#fff" stroke-width="0.3">TH</text>
<text transform="translate(365.1 1003.5) rotate(-45)" font-size="25.5" font-weight="bold" text-anchor="end" fill="#111" stroke="#fff" stroke-width="0.3">CA</text>
<text transform="translate(425.3 1003.5) rotate(-45)" font-size="25.5" font-weight="bold" text-anchor="end" fill="#111" stroke="#fff" stroke-width="0.3">TA</text>
<text transform="translate(485.5 1003.5) rotate(-45)" font-size="25.5" font-weight="bold" text-anchor="end" fill="#111" stroke="#fff" stroke-width="0.3">EC25</text>
<text transform="translate(545.7 1003.5) rotate(-45)" font-size="25.5" font-weight="bold" text-anchor="end" fill="#111" stroke="#fff" stroke-width="0.3">EC47</text>
<text transform="translate(605.9 1003.5) rotate(-45)" font-size="25.5" font-weight="bold" text-anchor="end" fill="#111" stroke="#fff" stroke-width="0.3">PG</text>
<text transform="translate(666.1 1003.5) rotate(-45)" font-size="25.5" font-weight="bold" text-anchor="end" fill="#111" stroke="#fff" stroke-width="0.3">BB</text>
<text transform="translate(726.3 1003.5) rotate(-45)" font-size="25.5" font-weight="bold" text-anchor="end" fill="#111" stroke="#fff" stroke-width="0.3">Human</text>
<text transform="translate(65.2 901.4) rotate(-90)" font-size="34" font-weight="bold" fill="#111">Lag phase, hours</text>
</svg>
</body></html>
